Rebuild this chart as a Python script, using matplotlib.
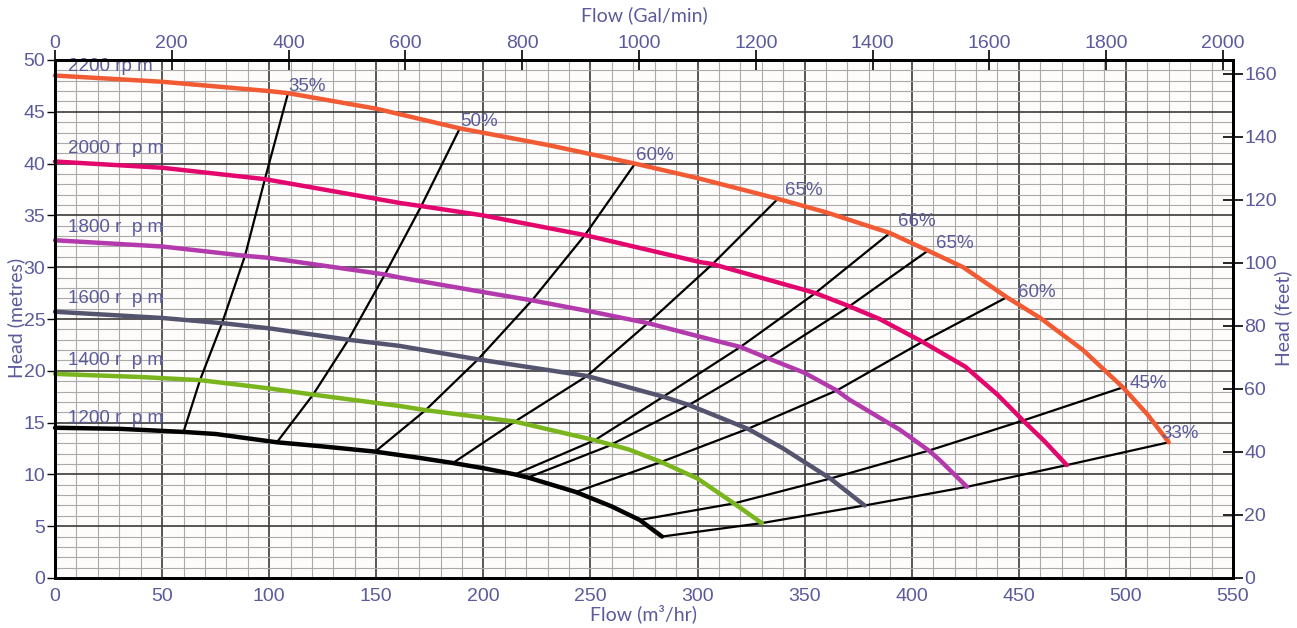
import matplotlib
matplotlib.use('Agg')
import matplotlib.pyplot as plt
import numpy as np

# speed curves (flow m3/hr, head m)
q_2200 = [0, 50, 100, 108.8, 150, 189, 230, 270.8, 300, 324.5, 337.5, 360, 389.8, 407.6, 424, 444.4, 460, 480, 498.6, 510, 520]
h_2200 = [48.5, 47.9, 47.0, 46.8, 45.3, 43.4, 41.8, 40.0, 38.6, 37.3, 36.6, 35.3, 33.3, 31.6, 30.0, 27.1, 25.1, 22.0, 18.4, 15.8, 13.1]

q_2000 = [0, 50, 98, 161, 171, 199.8, 247.4, 301, 307, 350, 355, 370, 385, 405, 425, 440, 452, 462, 472.4]
h_2000 = [40.2, 39.6, 38.5, 36.2, 35.9, 35.0, 33.1, 30.5, 30.3, 27.8, 27.5, 26.3, 25.0, 22.8, 20.4, 17.7, 15.2, 13.2, 10.9]

q_1800 = [0, 50, 88.7, 100, 154, 161, 199.8, 222.7, 250.7, 276.8, 301, 320, 333, 350, 365, 371, 394.5, 408, 413, 425.8]
h_1800 = [32.6, 32.0, 31.1, 30.9, 29.3, 29.0, 27.6, 26.8, 25.7, 24.6, 23.3, 22.3, 21.2, 19.8, 18.1, 17.2, 14.3, 12.3, 11.4, 8.8]

q_1600 = [0, 50, 78, 100, 137, 161, 197.5, 248.4, 284, 296, 323.5, 340, 362, 378]
h_1600 = [25.7, 25.1, 24.6, 24.1, 23.0, 22.4, 21.1, 19.5, 17.5, 16.7, 14.4, 12.5, 9.6, 7.0]

q_1400 = [0, 40, 67.7, 100, 120.5, 161, 173, 214.7, 252, 268, 283, 300, 317, 330]
h_1400 = [19.7, 19.4, 19.1, 18.3, 17.7, 16.6, 16.2, 15.1, 13.3, 12.4, 11.2, 9.6, 7.2, 5.3]

q_1200 = [0, 30, 60, 75, 103.6, 125, 149.5, 170, 185.8, 200, 214.7, 220.8, 243.2, 260, 273, 283.4]
h_1200 = [14.5, 14.4, 14.1, 13.9, 13.1, 12.7, 12.2, 11.6, 11.1, 10.6, 10.0, 9.7, 8.3, 6.9, 5.6, 4.0]

speed_labels = ['2200 rp m', '2000 r  p m', '1800 r  p m', '1600 r  p m', '1400 r  p m', '1200 r  p m']
speed_label_y = [49.4, 41.5, 33.8, 27.0, 21.0, 15.4]
speed_colors = ['#f15a32', '#e3066c', '#b23aad', '#55546f', '#7ab51d', '#000000']

# efficiency lines: points from 1200 rpm up to 2200 rpm
eff_labels = ['35%', '50%', '60%', '65%', '66%', '65%', '60%', '45%', '33%']
eff_q = [
    [60, 67.7, 78, 88.7, 98, 108.8],
    [103.6, 120.5, 137, 154, 171, 189],
    [149.5, 173, 197.5, 222.7, 247.4, 270.8],
    [185.8, 214.7, 248.4, 276.8, 307, 337.5],
    [214.7, 252, 284, 320, 355, 389.8],
    [220.8, 258, 296, 333, 370, 407.6],
    [243.2, 283, 323.5, 365, 405, 444.4],
    [273, 317, 362, 408, 452, 498.6],
    [283.4, 330, 378, 425.8, 472.4, 520],
]
eff_h = [
    [14.1, 19.1, 24.6, 31.1, 38.5, 46.8],
    [13.1, 17.7, 23.0, 29.3, 35.9, 43.4],
    [12.2, 16.2, 21.1, 26.8, 33.1, 40.0],
    [11.1, 15.1, 19.5, 24.6, 30.3, 36.6],
    [10.0, 13.3, 17.5, 22.3, 27.5, 33.3],
    [9.7, 12.7, 16.7, 21.2, 26.1, 31.6],
    [8.3, 11.2, 14.4, 18.1, 22.8, 27.1],
    [5.6, 7.2, 9.6, 12.3, 15.2, 18.4],
    [4.0, 5.3, 7.0, 8.8, 10.9, 13.1],
]
eff_offsets = [(0, -1), (0, -1), (1, 0), (5, 0), (6, 2), (6, -1), (8, -3), (5, -3), (-5, 0)]

txt_color = '#5b5b9c'
num_family = ['Liberation Sans', 'DejaVu Sans']
title_family = ['Lato', 'DejaVu Sans']

fig = plt.figure(figsize=(12.97, 6.28), dpi=100, facecolor='white')
ax = fig.add_axes([55 / 1297, 1 - 578 / 628, (1233 - 55) / 1297, (578 - 60) / 628])
ax.set_facecolor('#fdfcfa')

ax.set_xlim(0, 550)
ax.set_ylim(0, 50)
ax.set_xticks(np.arange(0, 551, 50))
ax.set_yticks(np.arange(0, 51, 5))
ax.set_xticks(np.arange(0, 551, 10), minor=True)
ax.set_yticks(np.arange(0, 51, 1), minor=True)

# graph paper grid
ax.grid(which='minor', color='#e2e2e2', lw=2.0, zorder=0)
ax.grid(which='minor', color='#aaaaaa', lw=0.8, zorder=0)
ax.grid(which='major', color='#3a3a3a', lw=1.2, zorder=0)
ax.set_axisbelow(True)

ax.tick_params(axis='x', which='both', length=0, pad=7, labelcolor=txt_color)
ax.tick_params(axis='y', which='major', direction='out', length=6, width=1, pad=1, labelcolor=txt_color)
ax.tick_params(axis='y', which='minor', length=0)
for lab in ax.get_xticklabels() + ax.get_yticklabels():
    lab.set_fontfamily(num_family)
    lab.set_fontsize(14)
for s in ax.spines.values():
    s.set_linewidth(2)
    s.set_color('black')

# speed curves
curves = [(q_2200, h_2200), (q_2000, h_2000), (q_1800, h_1800),
          (q_1600, h_1600), (q_1400, h_1400), (q_1200, h_1200)]
for (q, h), col in zip(curves, speed_colors):
    ax.plot(q, h, color=col, lw=3.2, solid_capstyle='round', solid_joinstyle='round', zorder=4, clip_on=False)

for lab, y in zip(speed_labels, speed_label_y):
    ax.text(6, y, lab, color=txt_color, fontsize=13.5, va='center', ha='left',
            family=num_family, zorder=6)

# efficiency lines
for lab, q, h, off in zip(eff_labels, eff_q, eff_h, eff_offsets):
    ax.plot(q, h, color='black', lw=1.6, zorder=3)
    ax.annotate(lab, (q[-1], h[-1]), xytext=off, textcoords='offset points',
                color=txt_color, fontsize=13.5, ha='left', va='bottom',
                family=num_family, zorder=6)

# top axis in Gal/min
axt = ax.twiny()
axt.set_xlim(0, 2017)
axt.set_xticks(np.arange(0, 2001, 200))
axt.tick_params(axis='x', direction='inout', length=14, width=1.2, pad=-1, labelcolor=txt_color)
for lab in axt.get_xticklabels():
    lab.set_fontfamily(num_family)
    lab.set_fontsize(14)

# right axis in feet
axr = ax.twinx()
axr.set_ylim(0, 164.4)
axr.set_yticks(np.arange(0, 161, 20))
axr.tick_params(axis='y', direction='inout', length=14, width=1.2, pad=1, labelcolor=txt_color)
for lab in axr.get_yticklabels():
    lab.set_fontfamily(num_family)
    lab.set_fontsize(14)
for a in (axt, axr):
    for s in a.spines.values():
        s.set_linewidth(2)

# axis titles placed like the original
fig.text(644 / 1297, 1 - 15 / 628, 'Flow (Gal/min)', ha='center', va='center',
         color=txt_color, fontsize=14, family=title_family)
fig.text(643 / 1297, 1 - 614 / 628, 'Flow (m³/hr)', ha='center', va='center',
         color=txt_color, fontsize=14, family=title_family)
fig.text(16 / 1297, 1 - 318 / 628, 'Head (metres)', rotation=90, ha='center', va='center',
         color=txt_color, fontsize=14, family=title_family)
fig.text(1283 / 1297, 1 - 318 / 628, 'Head (feet)', rotation=90, ha='center', va='center',
         color=txt_color, fontsize=14, family=title_family)

fig.savefig('out.png', dpi=100)
